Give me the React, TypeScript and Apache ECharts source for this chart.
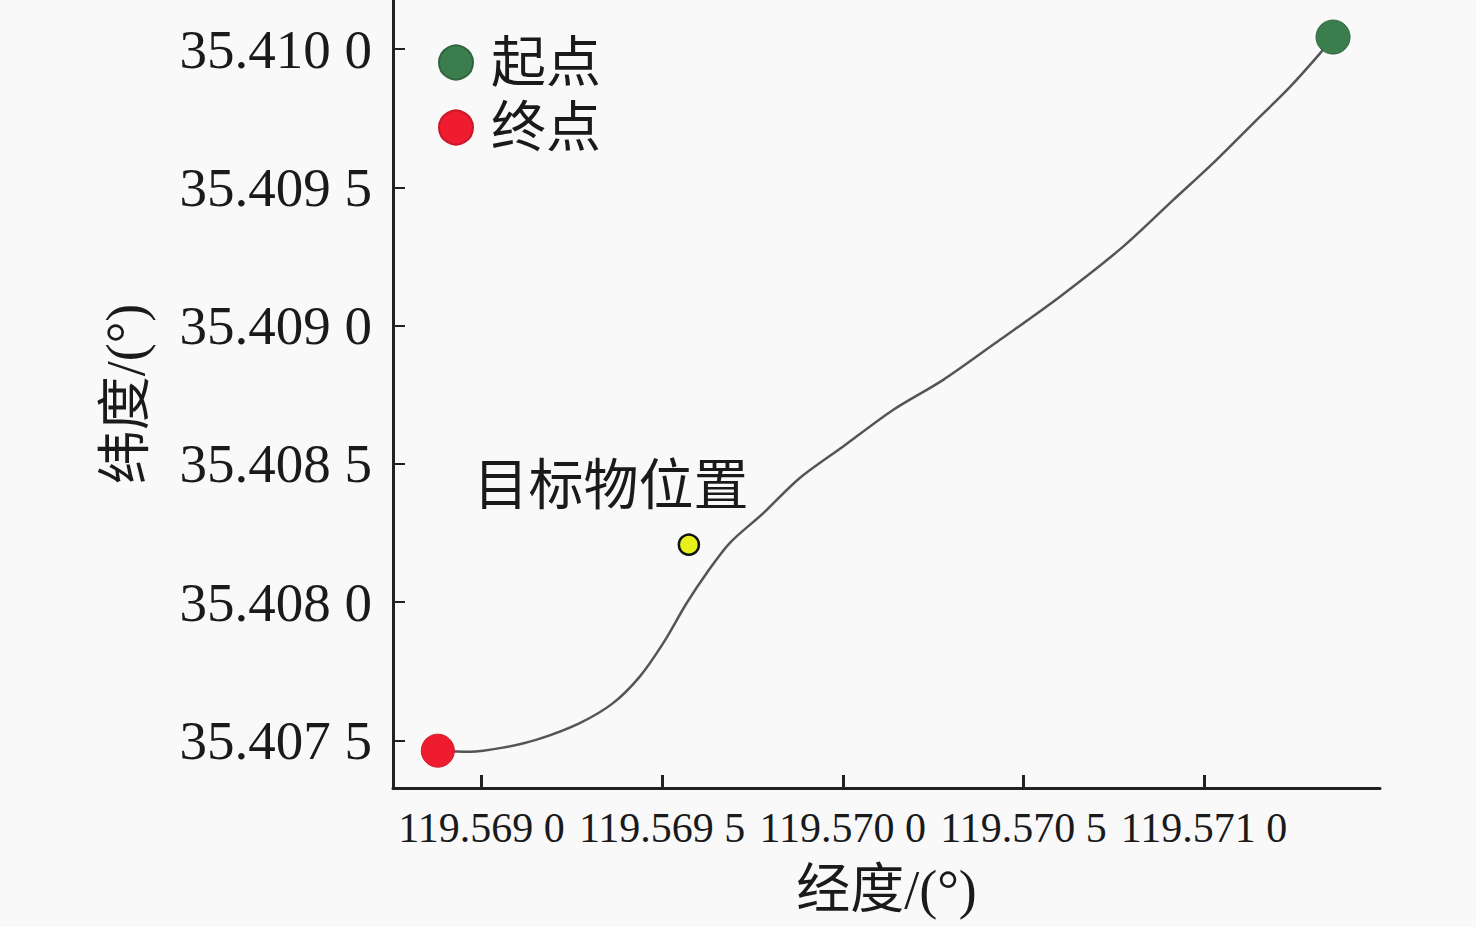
import React, { useEffect, useRef } from "react";
import * as echarts from "echarts";

// Trajectory (longitude, latitude), from end point to start point
const trackLon = [
  119.568879, 119.568968, 119.569059, 119.569153, 119.569272, 119.569364,
  119.569438, 119.569503, 119.569568, 119.569623, 119.569687, 119.56978,
  119.569881, 119.570001, 119.57014, 119.570278, 119.570435, 119.570601,
  119.570776, 119.570915, 119.571025, 119.571136, 119.571238, 119.571321,
  119.571357,
];
const trackLat = [
  35.407463, 35.407459, 35.407474, 35.407503, 35.407563, 35.407635,
  35.407731, 35.407852, 35.407997, 35.408105, 35.408214, 35.408322,
  35.408449, 35.408563, 35.408696, 35.408804, 35.408949, 35.409105,
  35.409286, 35.409455, 35.409588, 35.409732, 35.409864, 35.409985,
  35.410044,
];
const startPoint = [119.571357, 35.410044];
const endPoint = [119.568879, 35.407463];
const targetPoint = [119.569574, 35.408208];

const xTicks = [119.569, 119.5695, 119.57, 119.5705, 119.571];
const xTickLabels = ["119.569 0", "119.569 5", "119.570 0", "119.570 5", "119.571 0"];
const yTicks = [35.4075, 35.408, 35.4085, 35.409, 35.4095, 35.41];
const yTickLabels = ["35.407 5", "35.408 0", "35.408 5", "35.409 0", "35.409 5", "35.410 0"];

const FONT = "'Liberation Serif', 'Noto Sans CJK SC', serif";
const TXT = "#1a1a1a";

export default function App() {
  const ref = useRef<HTMLDivElement>(null);
  useEffect(() => {
    if (!ref.current) return;
    const chart = echarts.init(ref.current, null, { renderer: "svg" });
    const track = trackLon.map((x, i) => [x, trackLat[i]]);
    const fmt = (vals: number[], labels: string[]) => (v: number) => {
      let best = 0;
      vals.forEach((t, i) => {
        if (Math.abs(t - v) < Math.abs(vals[best] - v)) best = i;
      });
      return labels[best];
    };
    chart.setOption({
      animation: false,
      backgroundColor: "#f9f9f9",
      textStyle: { fontFamily: FONT, color: TXT },
      grid: { left: 393, right: 96, top: 0, bottom: 139, containLabel: false },
      legend: {
        data: ["起点", "终点"],
        orient: "vertical",
        left: 438,
        top: 30,
        padding: 0,
        itemGap: 0,
        itemWidth: 34,
        itemHeight: 34,
        icon: "circle",
        textStyle: {
          fontFamily: FONT,
          fontSize: 55,
          color: TXT,
          lineHeight: 65,
          padding: [0, 0, 0, 13],
        },
      },
      xAxis: {
        type: "value",
        min: 119.568755,
        max: 119.571487,
        name: "经度/(°)",
        nameLocation: "middle",
        nameGap: 75,
        nameTextStyle: { fontFamily: FONT, fontSize: 54, color: TXT },
        splitLine: { show: false },
        axisLine: { show: true, lineStyle: { color: "#222", width: 3 } },
        axisTick: {
          show: true,
          inside: true,
          length: 13,
          customValues: xTicks,
          lineStyle: { color: "#222", width: 3 },
        },
        axisLabel: {
          customValues: xTicks,
          formatter: fmt(xTicks, xTickLabels),
          fontFamily: FONT,
          fontSize: 42,
          color: TXT,
          margin: 19,
        },
      },
      yAxis: {
        type: "value",
        min: 35.407328,
        max: 35.410178,
        name: "纬度/(°)",
        nameLocation: "middle",
        nameGap: 240,
        nameTextStyle: { fontFamily: FONT, fontSize: 54, color: TXT },
        splitLine: { show: false },
        axisLine: { show: true, lineStyle: { color: "#222", width: 3 } },
        axisTick: {
          show: true,
          inside: true,
          length: 12,
          customValues: yTicks,
          lineStyle: { color: "#222", width: 2 },
        },
        axisLabel: {
          customValues: yTicks,
          formatter: fmt(yTicks, yTickLabels),
          fontFamily: FONT,
          fontSize: 55,
          color: TXT,
          margin: 21,
        },
      },
      series: [
        {
          name: "轨迹",
          type: "line",
          data: track,
          smooth: 0.3,
          symbol: "none",
          lineStyle: { color: "#555", width: 2.5 },
          z: 1,
        },
        {
          name: "起点",
          type: "scatter",
          data: [startPoint],
          symbol: "circle",
          symbolSize: 34,
          itemStyle: { color: "#3b7d4c", borderColor: "#2f6640", borderWidth: 1, opacity: 1 },
          z: 3,
        },
        {
          name: "终点",
          type: "scatter",
          data: [endPoint],
          symbol: "circle",
          symbolSize: 33,
          itemStyle: { color: "#ee1c2e", borderColor: "#c8182a", borderWidth: 1, opacity: 1 },
          z: 3,
        },
        {
          name: "目标物位置",
          type: "scatter",
          data: [targetPoint],
          symbol: "circle",
          symbolSize: 20,
          itemStyle: { color: "#e6f01a", borderColor: "#111", borderWidth: 2.5, opacity: 1 },
          label: {
            show: true,
            formatter: "{a}",
            position: "top",
            distance: 20,
            offset: [-78, 0],
            fontFamily: FONT,
            fontSize: 55,
            color: TXT,
          },
          z: 3,
        },
      ],
    });
    return () => chart.dispose();
  }, []);
  return (
    <div
      ref={ref}
      style={{ position: "fixed", left: 0, top: 0, width: 1476, height: 927 }}
    />
  );
}
